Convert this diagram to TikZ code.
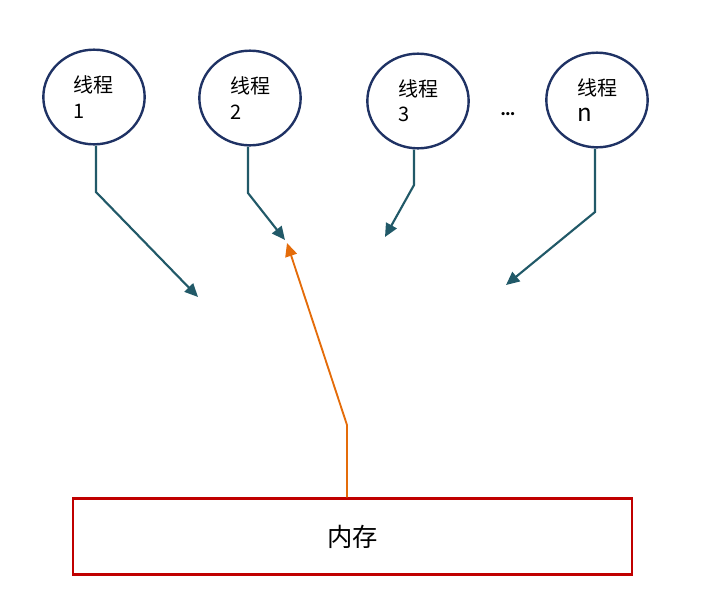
\documentclass[tikz,border=0pt]{standalone}
\usepackage{fontspec}
\setmainfont{Carlito}
\newfontfamily\cjk{Noto Sans CJK SC}
\usepackage{tikz}
\usetikzlibrary{arrows.meta,positioning,shapes.geometric}
\definecolor{thnavy}{RGB}{31,50,100}
\definecolor{thteal}{RGB}{33,89,104}
\definecolor{memred}{RGB}{192,0,0}
\definecolor{memorange}{RGB}{228,108,10}
\begin{document}
\begin{tikzpicture}[x=0.75pt,y=-0.75pt,
  th/.style={ellipse,draw=thnavy,line width=1.8pt,minimum width=76pt,
             minimum height=71pt,inner sep=0pt,align=left,font=\cjk\fontsize{15}{19}\selectfont},
  mem/.style={draw=memred,line width=1.8pt,minimum width=419pt,minimum height=57pt,
              font=\cjk\fontsize{19}{22}\selectfont},
  arr/.style={-{Triangle[length=10pt,width=9pt]},line width=1.6pt,thteal},
  oarr/.style={-{Triangle[length=10pt,width=9pt]},line width=1.4pt,memorange}
]
\useasboundingbox (0,0) rectangle (726,601);
\node[th] (t1) at (94,97)  {线程\\1};
\node[th] (t2) at (250,98) {线程\\2};
\node[th] (t3) at (418,101) {线程\\3};
\node[th] (tn) at (597,100) {线程\\{\fontsize{18}{19}\selectfont n}};
\node[font=\bfseries\fontsize{16}{18}\selectfont] (dots) at (508,114) {\dots};
\node[mem] (memory) at (352.5,536.5) {内存};
% free ends
\coordinate (b1) at (96,192);  \coordinate (e1) at (198,297);
\coordinate (b2) at (248,193); \coordinate (e2) at (285,240);
\coordinate (b3) at (414,185); \coordinate (e3) at (385,237);
\coordinate (bn) at (595,212); \coordinate (en) at (506,285);
\coordinate (bo) at (347,425); \coordinate (eo) at (287,243);
\draw[arr] (t1.south -| b1) -- (b1) -- (e1);
\draw[arr] (t2.south -| b2) -- (b2) -- (e2);
\draw[arr] (t3.south -| b3) -- (b3) -- (e3);
\draw[arr] (tn.south -| bn) -- (bn) -- (en);
\draw[oarr] (memory.north -| bo) -- (bo) -- (eo);
\end{tikzpicture}
\end{document}
